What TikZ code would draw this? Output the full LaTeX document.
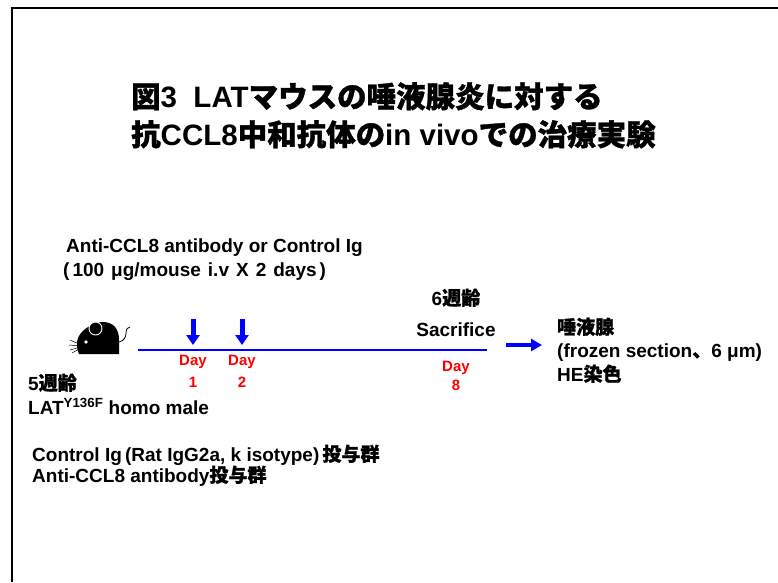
\documentclass[tikz,border=0pt]{standalone}
\usepackage{fontspec}
\setmainfont{Liberation Sans}
\newfontfamily\cjk{Noto Sans CJK JP}[BoldFeatures={FakeBold=1.2}]
\newcommand\jp[1]{{\cjk #1}}
\newcommand\wsp{\hspace{7pt}}
\usetikzlibrary{arrows.meta}
\definecolor{arrowblue}{RGB}{0,0,255}
\definecolor{dayred}{RGB}{255,0,0}
\tikzset{
  lbl/.style={anchor=base west, inner sep=0pt, font=\bfseries\fontsize{19}{23}\selectfont},
  ttl/.style={anchor=base west, inner sep=0pt, font=\bfseries\fontsize{29.5}{35}\selectfont},
  daylbl/.style={anchor=base, inner sep=0pt, text=dayred, font=\bfseries\fontsize{15}{18}\selectfont},
  mid/.style={anchor=base, inner sep=0pt, font=\bfseries\fontsize{19}{23}\selectfont},
  dose/.style={arrowblue, line width=5pt, -{Triangle[width=13pt,length=10pt]}},
  fwd/.style={arrowblue, line width=4pt, -{Triangle[width=12pt,length=11pt]}},
}
\begin{document}
\begin{tikzpicture}[x=1pt,y=-1pt]
\useasboundingbox (0,0) rectangle (778,582);
% slide frame
\draw[line width=2pt] (12,582) -- (12,8) -- (778,8);

% title
\node[ttl] (title1) at (131,107.5) {\jp{図}3\ \ LAT\jp{マウスの唾液腺炎に対する}};
\node[ttl] (title2) at (131,145.5) {\jp{抗}CCL8\jp{中和抗体の}in vivo\jp{での治療実験}};

% treatment note
\node[lbl] (treat1) at (66,252) {Anti-CCL8 antibody or Control Ig};
\node[lbl] (treat2) at (63,276) {(\hspace{3pt}100\wsp μg/mouse\wsp i.v\wsp X\wsp 2\wsp days\hspace{3pt})};

% mouse
\begin{scope}
  \fill (77,342) .. controls (78,334) and (85,328) .. (92,325)
        .. controls (100,320) and (113,321) .. (117,330)
        .. controls (119,334) and (119,338) .. (119,341)
        -- (119,354) -- (79,354) .. controls (77,350) and (77,346) .. (77,342) -- cycle;
  \filldraw[draw=white, line width=0.9pt] (95.5,328.5) circle (6.5);
  \fill[white] (86,342) circle (1.8);
  \draw[line width=0.5pt] (81,345) -- (70,340) (81,346) -- (69,345) (81,347) -- (70,350) (81,348) -- (72,353);
  \draw[line width=0.8pt] (119,342) .. controls (124,341) and (126,337) .. (126,333)
        .. controls (126,329) and (128,327) .. (130,327);
\end{scope}

% timeline
\coordinate (t0) at (138,350);
\coordinate (t1) at (487,350);
\draw[arrowblue, line width=2pt] (t0) -- (t1);

% dosing arrows
\coordinate (d1s) at (193,319); \coordinate (d1e) at (193,345);
\coordinate (d2s) at (242,319); \coordinate (d2e) at (242,345);
\draw[dose] (d1s) -- (d1e);
\draw[dose] (d2s) -- (d2e);

\node[daylbl] (day1a) at (193,365) {Day};
\node[daylbl] (day1b) at (193,387) {1};
\node[daylbl] (day2a) at (242,365) {Day};
\node[daylbl] (day2b) at (242,387) {2};
\node[daylbl] (day8a) at (456,371) {Day};
\node[daylbl] (day8b) at (456,390) {8};

% sacrifice
\node[mid] (age6) at (456,305) {6\jp{週齢}};
\node[mid] (sac) at (456,336) {Sacrifice};

% result arrow and analysis
\coordinate (r0) at (506,345); \coordinate (r1) at (542,345);
\draw[fwd] (r0) -- (r1);
\node[lbl] (gland) at (557,334) {\jp{唾液腺}};
\node[lbl] (frozen) at (557,357) {(frozen section\jp{、}6 μm)};
\node[lbl] (he) at (557,381) {HE\jp{染色}};

% starting mice
\node[lbl] (age5) at (28,390) {5\jp{週齢}};
\node[lbl] (strain) at (28,414) {LAT\textsuperscript{Y136F} homo male};

% groups
\node[lbl] (grp1) at (32,461) {Control Ig\,(Rat IgG2a, k isotype)\,\jp{投与群}};
\node[lbl] (grp2) at (32,482) {Anti-CCL8 antibody\jp{投与群}};
\end{tikzpicture}
\end{document}
